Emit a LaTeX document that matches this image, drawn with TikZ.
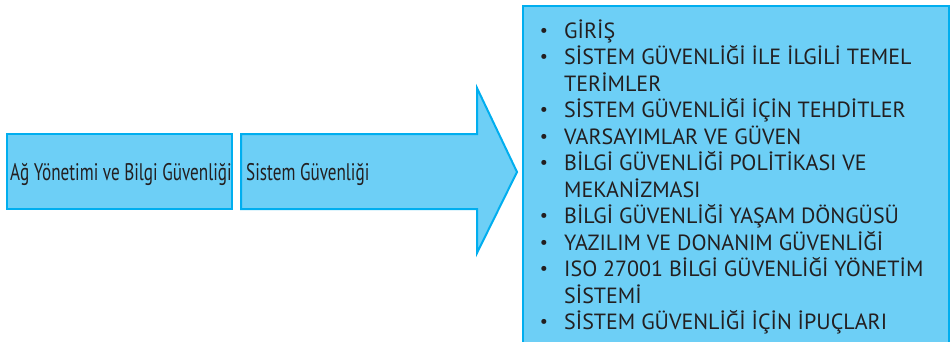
\documentclass[tikz,border=0pt]{standalone}
\usepackage{fontspec}
\setmainfont{PT Sans}
\newfontfamily\narrowfont[FakeStretch=0.715]{PT Sans}
\begin{document}
\definecolor{boxfill}{HTML}{6DCFF6}
\definecolor{boxline}{HTML}{00AEEF}
\definecolor{ink}{HTML}{231F20}
\begin{tikzpicture}[x=1pt,y=-1pt,
  panel/.style={fill=boxfill,draw=boxline,line width=2pt},
  label/.style={inner sep=0pt,anchor=base west,text=ink,font=\narrowfont\fontsize{24}{26}\selectfont},
  entry/.style={inner sep=0pt,anchor=base west,text=ink,font=\fontsize{22}{24}\selectfont},
  dot/.style={inner sep=0pt,anchor=base,text=ink,font=\fontsize{18}{20}\selectfont}]
\useasboundingbox (0,0) rectangle (952,341);
\clip (0,0) rectangle (952,341);
% left box
\draw[panel] (7,134) rectangle (232,209);
\node[label] (first) at (10,180) {Ağ Yönetimi ve Bilgi Güvenliği};
% arrow
\draw[panel,line join=miter] (241,134) -- (477,134) -- (477,88) -- (517,172)
  -- (477,253) -- (477,209) -- (241,209) -- cycle;
\node[label] (second) at (246,180) {Sistem Güvenliği};
% topic list box, running past the lower edge
\draw[panel] (523,6) rectangle (949,360);
\def\lh{26.5}
\foreach \txt/\i/\b [count=\k] in {
  GİRİŞ/0/1,
  SİSTEM GÜVENLİĞİ İLE İLGİLİ TEMEL/1/1,
  TERİMLER/2/0,
  SİSTEM GÜVENLİĞİ İÇİN TEHDİTLER/3/1,
  VARSAYIMLAR VE GÜVEN/4/1,
  BİLGİ GÜVENLİĞİ POLİTİKASI VE/5/1,
  MEKANİZMASI/6/0,
  BİLGİ GÜVENLİĞİ YAŞAM DÖNGÜSÜ/7/1,
  YAZILIM VE DONANIM GÜVENLİĞİ/8/1,
  ISO 27001 BİLGİ GÜVENLİĞİ YÖNETİM/9/1,
  SİSTEMİ/10/0,
  SİSTEM GÜVENLİĞİ İÇİN İPUÇLARI/11/1}{
  \node[entry] (t\k) at (564,{38+\lh*\i}) {\txt};
  \ifnum\b=1
    \node[dot] (d\k) at (544,{36+\lh*\i}) {•};
  \fi
}
\end{tikzpicture}
\end{document}
